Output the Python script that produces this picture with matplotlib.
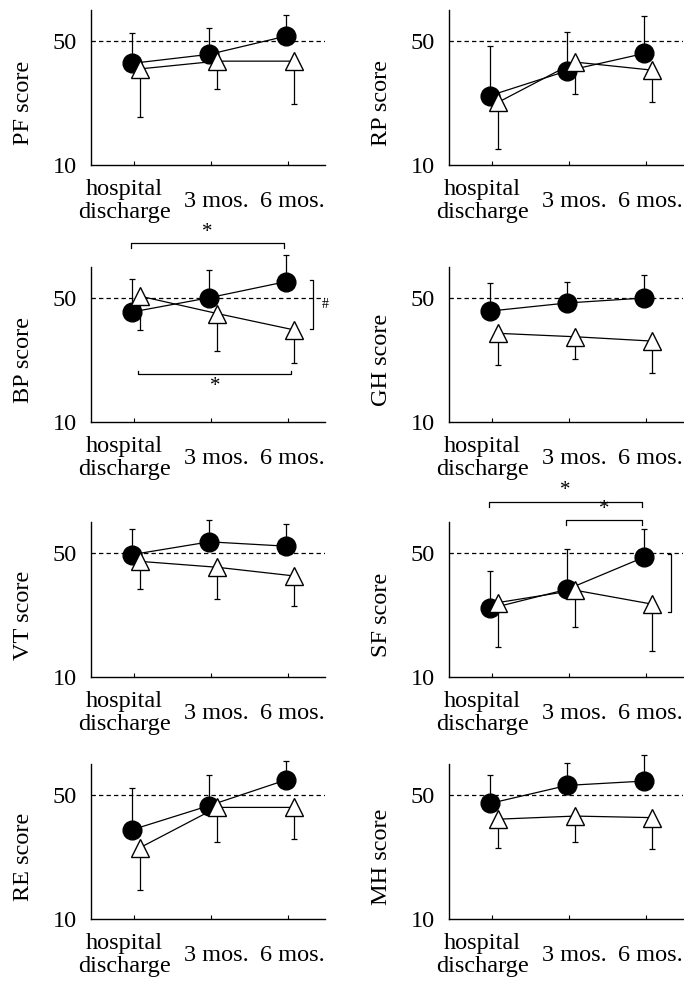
import matplotlib
matplotlib.use("Agg")
import matplotlib.pyplot as plt
from matplotlib.transforms import ScaledTranslation

plt.rcParams['font.family'] = ['Liberation Serif', 'DejaVu Serif']

# ---------------- data ----------------
timepoints = ["hospital\ndischarge", "3 mos.", "6 mos."]
scales = ["PF", "RP", "BP", "GH", "VT", "SF", "RE", "MH"]

# filled circles: means and upper error-bar ends
circle_mean = {
    "PF": [42.8, 45.7, 51.6], "RP": [32.4, 40.4, 46.0],
    "BP": [45.5, 50.1, 55.3], "GH": [45.8, 48.4, 50.0],
    "VT": [49.5, 53.6, 52.2], "SF": [32.1, 38.3, 48.7],
    "RE": [38.8, 46.6, 54.9], "MH": [47.3, 53.1, 54.5],
}
circle_top = {
    "PF": [52.5, 54.3, 58.3], "RP": [48.5, 52.9, 58.2],
    "BP": [56.2, 58.9, 63.8], "GH": [54.8, 55.3, 57.5],
    "VT": [57.9, 60.8, 59.3], "SF": [44.2, 51.4, 57.8],
    "RE": [52.1, 56.4, 61.0], "MH": [56.4, 60.2, 62.9],
}
# open triangles: means and lower error-bar ends
triangle_mean = {
    "PF": [41.0, 43.5, 43.5], "RP": [30.2, 43.2, 40.6],
    "BP": [50.6, 45.0, 39.7], "GH": [38.6, 37.5, 36.1],
    "VT": [47.3, 45.4, 42.6], "SF": [34.0, 38.0, 33.5],
    "RE": [33.0, 46.0, 46.0], "MH": [42.2, 43.2, 42.7],
}
triangle_bottom = {
    "PF": [25.4, 34.4, 29.7], "RP": [15.2, 32.8, 30.4],
    "BP": [39.6, 33.0, 28.9], "GH": [28.3, 30.3, 25.9],
    "VT": [38.3, 35.1, 33.0], "SF": [19.6, 26.0, 18.4],
    "RE": [19.3, 34.8, 35.7], "MH": [32.9, 34.9, 32.5],
}
# significance brackets: (panel, from index, to index, level, star side)
time_brackets = [
    ("BP", 0, 2, 67.6, "up"),
    ("BP", 0, 2, 25.4, "down"),
    ("SF", 0, 2, 66.6, "up"),
    ("SF", 1, 2, 60.5, "up"),
]
group_brackets = [("BP", 55.7, 39.9, "#"), ("SF", 49.6, 31.0, "")]

# ---------------- layout ----------------
W, H = 684, 983
fig = plt.figure(figsize=(W / 100, H / 100), dpi=100)

col_left = [91, 449]
ax_w = 234
row_top = [10, 267, 522, 764]
ax_h = 155

fs = 17.5
x_circ = -0.02
x_tri = 0.08
lab_dx_pt = [-6.5, 4.3, 2.9]

for i, sc in enumerate(scales):
    r, c = divmod(i, 2)
    ax = fig.add_axes([col_left[c] / W, 1 - (row_top[r] + ax_h) / H,
                       ax_w / W, ax_h / H])
    xs = range(len(timepoints))
    xc = [x + x_circ for x in xs]
    xt = [x + x_tri for x in xs]
    cm, ct = circle_mean[sc], circle_top[sc]
    tm, tb = triangle_mean[sc], triangle_bottom[sc]

    ax.axhline(50, color='black', lw=0.9, dashes=(3.5, 2.5), zorder=1)

    ax.errorbar(xc, cm, yerr=[[0] * 3, [t - m for t, m in zip(ct, cm)]],
                fmt='none', ecolor='black', elinewidth=0.9, capsize=2.5,
                capthick=0.9, clip_on=False, zorder=2)
    ax.errorbar(xt, tm, yerr=[[m - b for m, b in zip(tm, tb)], [0] * 3],
                fmt='none', ecolor='black', elinewidth=0.9, capsize=2.5,
                capthick=0.9, clip_on=False, zorder=2)
    ax.plot(xc, cm, '-', color='black', lw=0.9, marker='o', ms=13.5,
            mfc='black', mec='black', zorder=3, clip_on=False)
    ax.plot(xt, tm, '-', color='black', lw=0.9, marker='^', ms=13.5,
            mfc='white', mec='black', mew=1.0, zorder=4, clip_on=False)

    ax.set_xlim(-0.555, 2.48)
    ax.set_ylim(10, 60)
    ax.set_yticks([10, 50])
    ax.set_yticklabels(["10", "50"], fontsize=fs)
    ax.tick_params(axis='y', length=0, pad=10)
    ax.tick_params(axis='x', direction='in', length=3, width=0.8, pad=26)
    ax.set_xticks(list(xs))
    ax.set_xticklabels(timepoints, fontsize=fs, va='center', linespacing=1.12)
    for lab, dx in zip(ax.get_xticklabels(), lab_dx_pt):
        lab.set_transform(lab.get_transform() +
                          ScaledTranslation(dx / 72, 0, fig.dpi_scale_trans))

    for s in ['top', 'right']:
        ax.spines[s].set_visible(False)
    for s in ['left', 'bottom']:
        ax.spines[s].set_linewidth(1.0)

    ax.set_ylabel(f"{sc} score", fontsize=fs)
    ax.yaxis.set_label_coords(-0.245, 0.40)

    for (p, a, b, lvl, side) in time_brackets:
        if p != sc:
            continue
        if side == "up":
            x0, x1 = a + x_circ - 0.02, b + x_circ - 0.03
            tick = -1.6
            ax.text((x0 + x1) / 2, lvl + 0.6, "*", ha='center', va='bottom',
                    fontsize=15)
        else:
            x0, x1 = a + x_tri - 0.02, b + x_tri - 0.04
            tick = 1.2
            ax.text((x0 + x1) / 2, lvl - 0.8, "*", ha='center', va='top',
                    fontsize=15)
        ax.plot([x0, x0, x1, x1], [lvl + tick, lvl, lvl, lvl + tick],
                color='black', lw=0.9, clip_on=False)

    for (p, hi, lo, sym) in group_brackets:
        if p != sc:
            continue
        bx = 2.33
        ax.plot([bx - 0.05, bx, bx, bx - 0.05], [hi, hi, lo, lo],
                color='black', lw=0.9, clip_on=False)
        if sym:
            ax.text(bx + 0.15, (hi + lo) / 2, sym, ha='center', va='center',
                    fontsize=10)

fig.savefig("out.png", dpi=100)
